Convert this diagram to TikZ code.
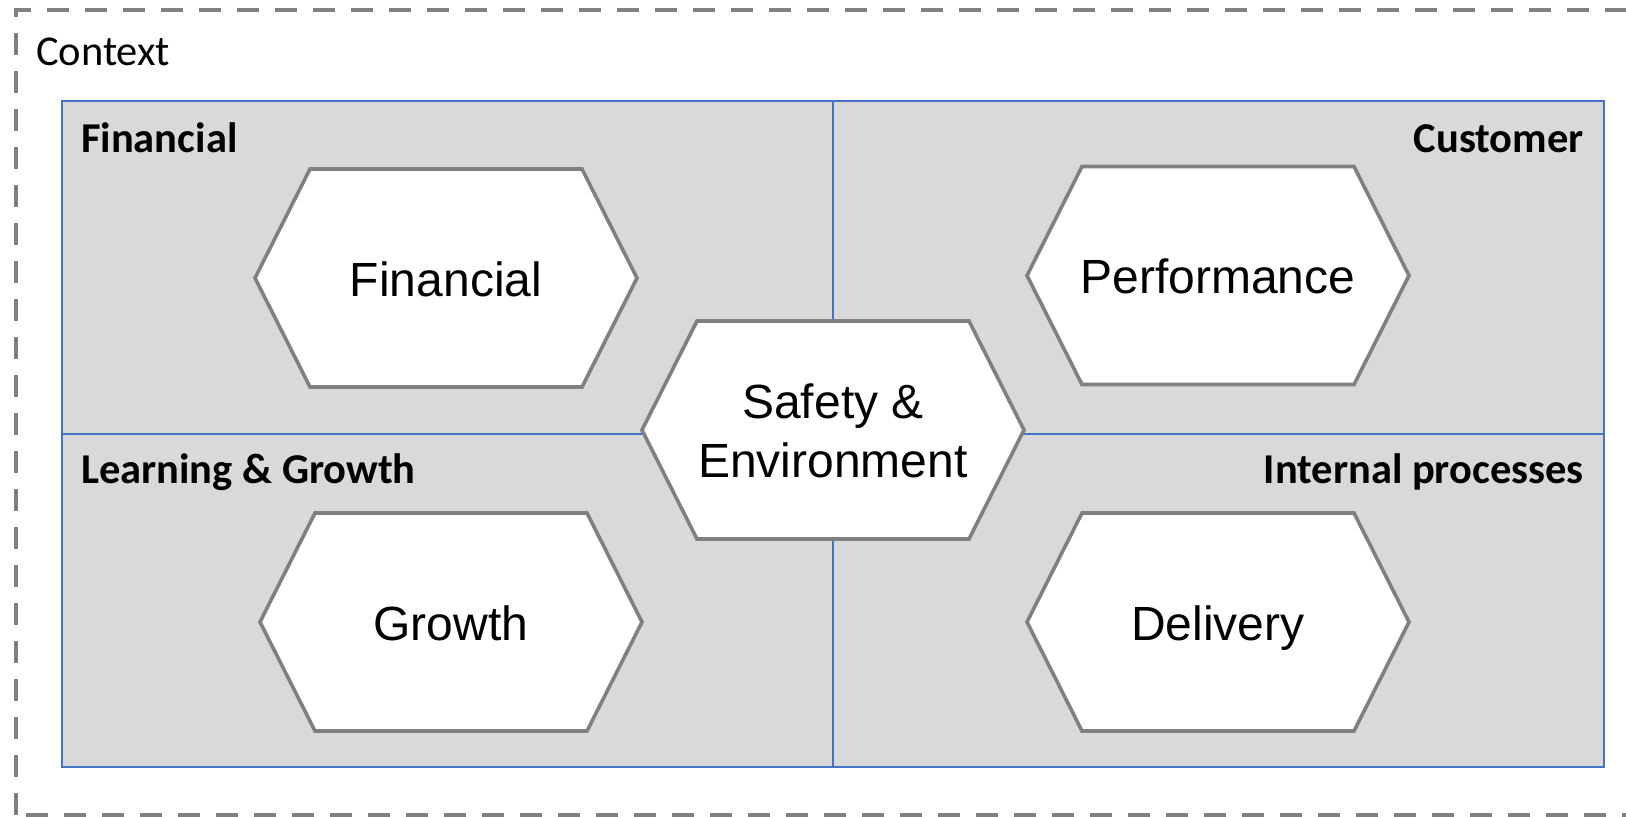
\documentclass[tikz,border=0pt]{standalone}
\usepackage{fontspec}
\setmainfont{Liberation Sans}
\newfontfamily\calibri{Carlito}
\definecolor{panelgray}{HTML}{D9D9D9}
\definecolor{panelblue}{HTML}{4472C4}
\definecolor{linegray}{HTML}{808080}
\tikzset{
  hexline/.style={draw=linegray, line width=3.6pt, fill=white, line join=miter},
  hextext/.style={font=\fontsize{48}{59}\selectfont, inner sep=0pt, align=center},
  quadlabel/.style={font=\calibri\bfseries\fontsize{42.5}{50}\selectfont, inner sep=0pt},
  ctxlabel/.style={font=\calibri\fontsize{42.5}{50}\selectfont, inner sep=0pt},
  hexa/.pic={\path[hexline] (-191,0) -- (-136,-109) -- (136,-109) -- (191,0) -- (136,109) -- (-136,109) -- cycle;}
}
\begin{document}
\begin{tikzpicture}[x=1pt, y=-1pt]
\useasboundingbox (0,0) rectangle (1626,817);
\clip (0,0) rectangle (1626,817);
% context border
\draw[linegray, line width=4.6pt, dash pattern=on 22pt off 16pt] (16,815) -- (16,10) -- (1640,10) -- (1640,815) -- cycle;
\node[ctxlabel, anchor=base west] (ctx) at (36,65) {Context};
% panel
\draw[panelblue, line width=2pt, fill=panelgray] (62,101) rectangle (1604,767);
\coordinate (vt) at (833,101);
\coordinate (vb) at (833,767);
\coordinate (hl) at (62,434);
\coordinate (hr) at (1604,434);
\draw[panelblue, line width=1.6pt] (vt) -- (vb);
\draw[panelblue, line width=1.6pt] (hl) -- (hr);
% quadrant labels
\node[quadlabel, anchor=base west] (lfin) at (81,152) {Financial};
\node[quadlabel, anchor=base east] (lcus) at (1584,152) {Customer};
\node[quadlabel, anchor=base west] (llg) at (81,483) {Learning \& Growth};
\node[quadlabel, anchor=base east] (lip) at (1584,483) {Internal processes};
% hexagons
\pic at (446,278) {hexa};
\node[hextext, anchor=base] (fin) at (446,296) {Financial};
\pic at (1218,275.5) {hexa};
\node[hextext, anchor=base] (perf) at (1218,293.5) {Performance};
\pic at (451,622) {hexa};
\node[hextext, anchor=base] (grow) at (451,640) {Growth};
\pic at (1218,622) {hexa};
\node[hextext, anchor=base] (deliv) at (1218,640) {Delivery};
\pic at (833,430) {hexa};
\node[hextext] (safe) at (833,430.5) {Safety \&\\Environment};
\end{tikzpicture}
\end{document}
